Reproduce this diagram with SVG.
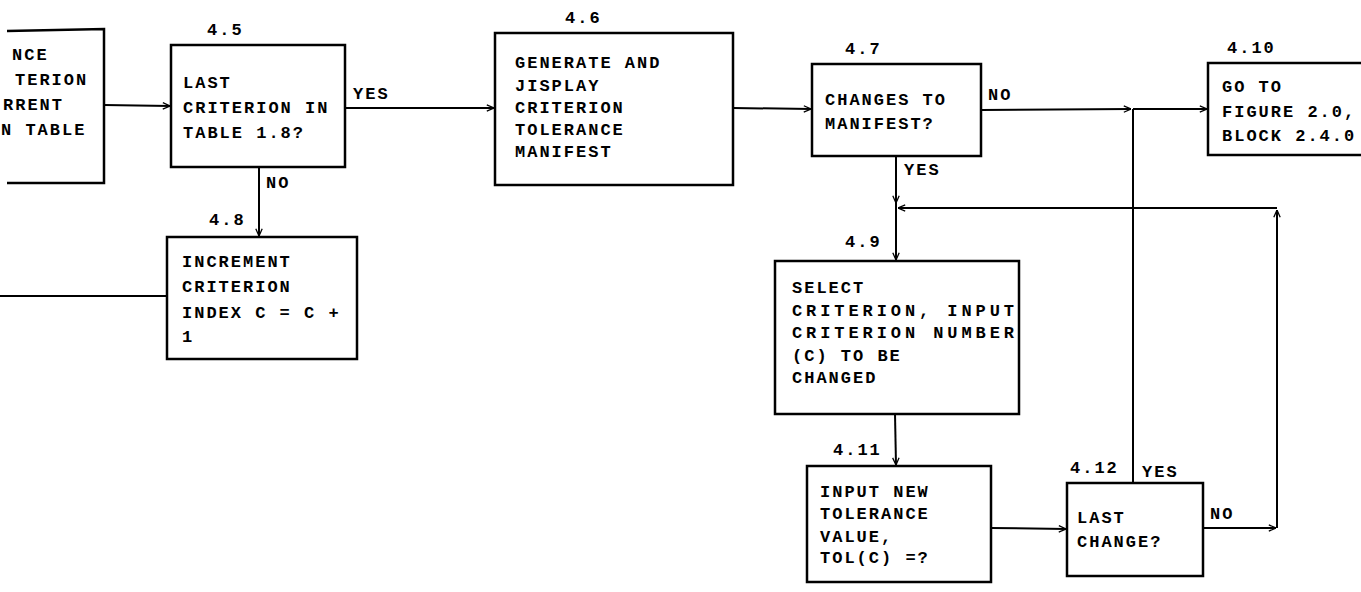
<svg xmlns="http://www.w3.org/2000/svg" width="1361" height="592" viewBox="0 0 1361 592">
<style>
.box{fill:none;stroke:#000;stroke-width:2.5}
.c{fill:none;stroke:#000;stroke-width:2}
text{font-family:"Liberation Mono","DejaVu Sans Mono",monospace;font-weight:bold;font-size:17px;letter-spacing:2px;fill:#000}
</style>
<defs>
<marker id="ah" viewBox="0 0 10 10" refX="10" refY="5" markerWidth="8" markerHeight="8" markerUnits="userSpaceOnUse" orient="auto">
<path d="M1,1 L10,5 L1,9" fill="none" stroke="#000" stroke-width="1.6"/>
</marker>
</defs>
<rect width="1361" height="592" fill="#fff"/>

<g id="node-left">
<path class="box" d="M7,31 L104,29 L104,183 L7,183"/>
<text x="12" y="60">NCE</text>
<text x="15" y="85">TERION</text>
<text x="3" y="110">RRENT</text>
<text x="1" y="135">N TABLE</text>
</g>

<g id="node-4-5">
<rect class="box" x="171" y="45" width="174" height="122"/>
<text x="207" y="35">4.5</text>
<text x="183" y="88">LAST</text>
<text x="183" y="113">CRITERION IN</text>
<text x="183" y="138">TABLE 1.8?</text>
</g>

<g id="node-4-6">
<rect class="box" x="495" y="33" width="238" height="152"/>
<text x="565" y="23">4.6</text>
<text x="515" y="68">GENERATE AND</text>
<text x="515" y="91">JISPLAY</text>
<text x="515" y="113">CRITERION</text>
<text x="515" y="135">TOLERANCE</text>
<text x="515" y="157">MANIFEST</text>
</g>

<g id="node-4-7">
<rect class="box" x="812" y="64" width="169" height="92"/>
<text x="845" y="54">4.7</text>
<text x="825" y="105">CHANGES TO</text>
<text x="825" y="129">MANIFEST?</text>
</g>

<g id="node-4-10">
<path class="box" d="M1364,63 L1208,63 L1208,155 L1364,155"/>
<text x="1227" y="53">4.10</text>
<text x="1222" y="92">GO TO</text>
<text x="1222" y="117">FIGURE 2.0,</text>
<text x="1222" y="141">BLOCK 2.4.0</text>
</g>

<g id="node-4-8">
<rect class="box" x="167" y="237" width="190" height="122"/>
<text x="209" y="225">4.8</text>
<text x="182" y="267">INCREMENT</text>
<text x="182" y="292">CRITERION</text>
<text x="182" y="318">INDEX C = C +</text>
<text x="182" y="342">1</text>
</g>

<g id="node-4-9">
<rect class="box" x="775" y="261" width="244" height="153"/>
<text x="845" y="247">4.9</text>
<text x="792" y="293">SELECT</text>
<text x="792" y="316" textLength="224" lengthAdjust="spacing">CRITERION, INPUT</text>
<text x="792" y="338" textLength="224" lengthAdjust="spacing">CRITERION NUMBER</text>
<text x="792" y="361">(C) TO BE</text>
<text x="792" y="383">CHANGED</text>
</g>

<g id="node-4-11">
<rect class="box" x="807" y="466" width="184" height="116"/>
<text x="833" y="455">4.11</text>
<text x="820" y="497">INPUT NEW</text>
<text x="820" y="519">TOLERANCE</text>
<text x="820" y="542">VALUE,</text>
<text x="820" y="563">TOL(C) =?</text>
</g>

<g id="node-4-12">
<rect class="box" x="1067" y="483" width="136" height="93"/>
<text x="1070" y="473">4.12</text>
<text x="1077" y="523">LAST</text>
<text x="1077" y="547">CHANGE?</text>
</g>

<g id="connectors">
<path class="c" d="M104,105 L170,106" marker-end="url(#ah)"/>
<path class="c" d="M345,108 L494,108" marker-end="url(#ah)"/>
<text x="353" y="99">YES</text>
<path class="c" d="M259,167 L259,236" marker-end="url(#ah)"/>
<text x="266" y="188">NO</text>
<path class="c" d="M0,296 L167,296"/>
<path class="c" d="M733,108 L811,109" marker-end="url(#ah)"/>
<path class="c" d="M981,110 L1131,109" marker-end="url(#ah)"/>
<text x="988" y="100">NO</text>
<path class="c" d="M1133,109 L1207,109" marker-end="url(#ah)"/>
<path class="c" d="M896,156 L896,203" marker-end="url(#ah)"/>
<path class="c" d="M896,203 L896,260" marker-end="url(#ah)"/>
<text x="904" y="175">YES</text>
<path class="c" d="M895,414 L896,465" marker-end="url(#ah)"/>
<path class="c" d="M991,528 L1066,529" marker-end="url(#ah)"/>
<path class="c" d="M1133,483 L1133,109"/>
<text x="1142" y="477">YES</text>
<path class="c" d="M1203,528 L1276,528" marker-end="url(#ah)"/>
<text x="1210" y="519">NO</text>
<path class="c" d="M1277,528 L1277,210" marker-end="url(#ah)"/>
<path class="c" d="M1277,208 L898,208" marker-end="url(#ah)"/>
</g>
</svg>
